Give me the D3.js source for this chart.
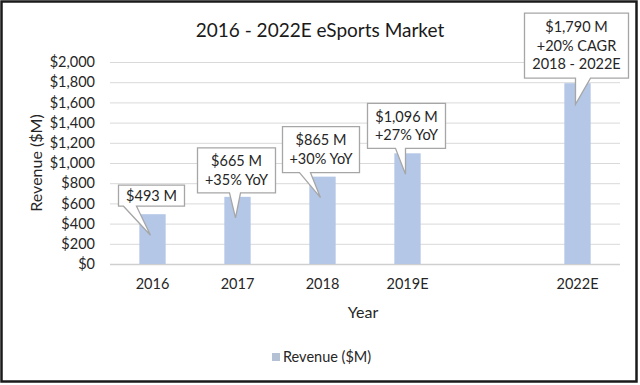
<!DOCTYPE html>
<html>
<head>
<meta charset="utf-8">
<script src="https://cdn.jsdelivr.net/npm/d3@7"></script>
<style>
  html, body { margin: 0; padding: 0; background: #fff; }
  svg { display: block; font-family: Lato, "Open Sans", sans-serif; }
</style>
</head>
<body>
<svg id="chart" width="640" height="385"></svg>
<script>
const categories = ["2016", "2017", "2018", "2019E", "", "2022E"]
const revenue = [493, 665, 865, 1096, null, 1790]
const calloutLines = [
    ["$493 M"],
    ["$665 M", "+35% YoY"],
    ["$865 M", "+30% YoY"],
    ["$1,096 M", "+27% YoY"],
    null,
    ["$1,790 M", "+20% CAGR", "2018 - 2022E"]
]
const yTicks = [0, 200, 400, 600, 800, 1000, 1200, 1400, 1600, 1800, 2000]

// box placement relative to bar centre / bar top: [left, right, top, bottom, tailLeft, tailRight]
const calloutBox = [
    [-34, 32, -29, -8, -29, -16],
    [-40, 38, -49, -4, -8, 3],
    [-40, 37, -50, -4, -23, -12],
    [-40, 38, -50, -5, -12, -2],
    null,
    [-53, 51, -70, -5, -2, 13]
]

const W = 640, H = 385
const plot = { left: 110, right: 620, top: 62, bottom: 264 }
const barColor = "#b4c7e7"
const textColor = "#262626"

const svg = d3.select("#chart")

svg.append("rect")
    .attr("x", 1.5).attr("y", 1.5)
    .attr("width", 635).attr("height", 380)
    .attr("fill", "#fff")
    .attr("stroke", "#1a1a1a")
    .attr("stroke-width", 2.5)

const x = d3.scaleBand()
    .domain(categories)
    .range([plot.left, plot.right])
    .paddingInner(0.69)
    .paddingOuter(0.345)

const y = d3.scaleLinear()
    .domain([0, 2000])
    .range([plot.bottom, plot.top])

// gridlines
svg.append("g")
    .selectAll("line")
    .data(yTicks)
    .join("line")
    .attr("x1", plot.left).attr("x2", plot.right)
    .attr("y1", d => y(d) + 0.5).attr("y2", d => y(d) + 0.5)
    .attr("stroke", d => d === 0 ? "#cfcfcf" : "#d9d9d9")
    .attr("stroke-width", d => d === 0 ? 1.5 : 1)

// y axis labels
const yAxis = svg.append("g")
    .attr("transform", `translate(${plot.left},0)`)
    .call(d3.axisLeft(y).tickValues(yTicks).tickSize(0).tickPadding(15)
        .tickFormat(d => "$" + d3.format(",")(d)))
yAxis.select(".domain").remove()
yAxis.selectAll("text")
    .attr("font-size", 14.5)
    .attr("fill", textColor)
    .attr("font-family", "Lato, sans-serif")

// x axis labels
const xAxis = svg.append("g")
    .attr("transform", `translate(0,${plot.bottom})`)
    .call(d3.axisBottom(x).tickSize(0).tickPadding(15))
xAxis.select(".domain").remove()
xAxis.selectAll("text")
    .attr("font-size", 14.5)
    .attr("fill", textColor)
    .attr("font-family", "Lato, sans-serif")

// bars
const barData = categories.map((c, i) => ({ cat: c, value: revenue[i], i }))
    .filter(d => d.value !== null)

svg.append("g")
    .selectAll("rect")
    .data(barData)
    .join("rect")
    .attr("x", d => x(d.cat))
    .attr("width", x.bandwidth())
    .attr("y", d => y(d.value))
    .attr("height", d => y(0) - y(d.value))
    .attr("fill", barColor)

// callouts
const callouts = svg.append("g")
    .selectAll("g")
    .data(barData)
    .join("g")

callouts.append("path")
    .attr("fill", "#fff")
    .attr("stroke", "#a6a6a6")
    .attr("stroke-width", 1.3)
    .attr("d", d => {
        const [l, r, t, b, tl, tr] = calloutBox[d.i]
        const cx = x(d.cat) + x.bandwidth() / 2
        const yt = y(d.value)
        const tipX = cx - 2, tipY = yt + 21
        const p = d3.path()
        p.moveTo(cx + l, yt + t)
        p.lineTo(cx + r, yt + t)
        p.lineTo(cx + r, yt + b)
        p.lineTo(cx + tr, yt + b)
        p.lineTo(tipX, tipY)
        p.lineTo(cx + tl, yt + b)
        p.lineTo(cx + l, yt + b)
        p.closePath()
        return p.toString()
    })

callouts.each(function (d) {
    const [l, r, t, b] = calloutBox[d.i]
    const cx = x(d.cat) + x.bandwidth() / 2
    const yt = y(d.value)
    const lines = calloutLines[d.i]
    const lh = 18.5
    const midY = yt + (t + b) / 2
    const firstY = midY - (lines.length - 1) * lh / 2
    d3.select(this).selectAll("text")
        .data(lines)
        .join("text")
        .attr("x", cx + (l + r) / 2)
        .attr("y", (s, k) => firstY + k * lh)
        .attr("dy", "0.35em")
        .attr("text-anchor", "middle")
        .attr("font-size", 14.5)
        .attr("fill", textColor)
        .text(s => s)
})

// title
svg.append("text")
    .attr("x", 320).attr("y", 30)
    .attr("dy", "0.35em")
    .attr("text-anchor", "middle")
    .attr("font-size", 19)
    .attr("fill", "#1a1a1a")
    .text("2016 - 2022E eSports Market")

// axis titles
svg.append("text")
    .attr("transform", "translate(36,163) rotate(-90)")
    .attr("dy", "0.35em")
    .attr("text-anchor", "middle")
    .attr("font-size", 16)
    .attr("fill", textColor)
    .text("Revenue ($M)")

svg.append("text")
    .attr("x", 363).attr("y", 312)
    .attr("dy", "0.35em")
    .attr("text-anchor", "middle")
    .attr("font-size", 16)
    .attr("fill", textColor)
    .text("Year")

// legend
const legend = svg.append("g").attr("transform", "translate(272,353)")
legend.append("rect")
    .attr("width", 8).attr("height", 8)
    .attr("fill", "#b4c0d4")
legend.append("text")
    .attr("x", 11).attr("y", 4)
    .attr("dy", "0.35em")
    .attr("font-size", 14.5)
    .attr("fill", textColor)
    .text("Revenue ($M)")
</script>
</body>
</html>
